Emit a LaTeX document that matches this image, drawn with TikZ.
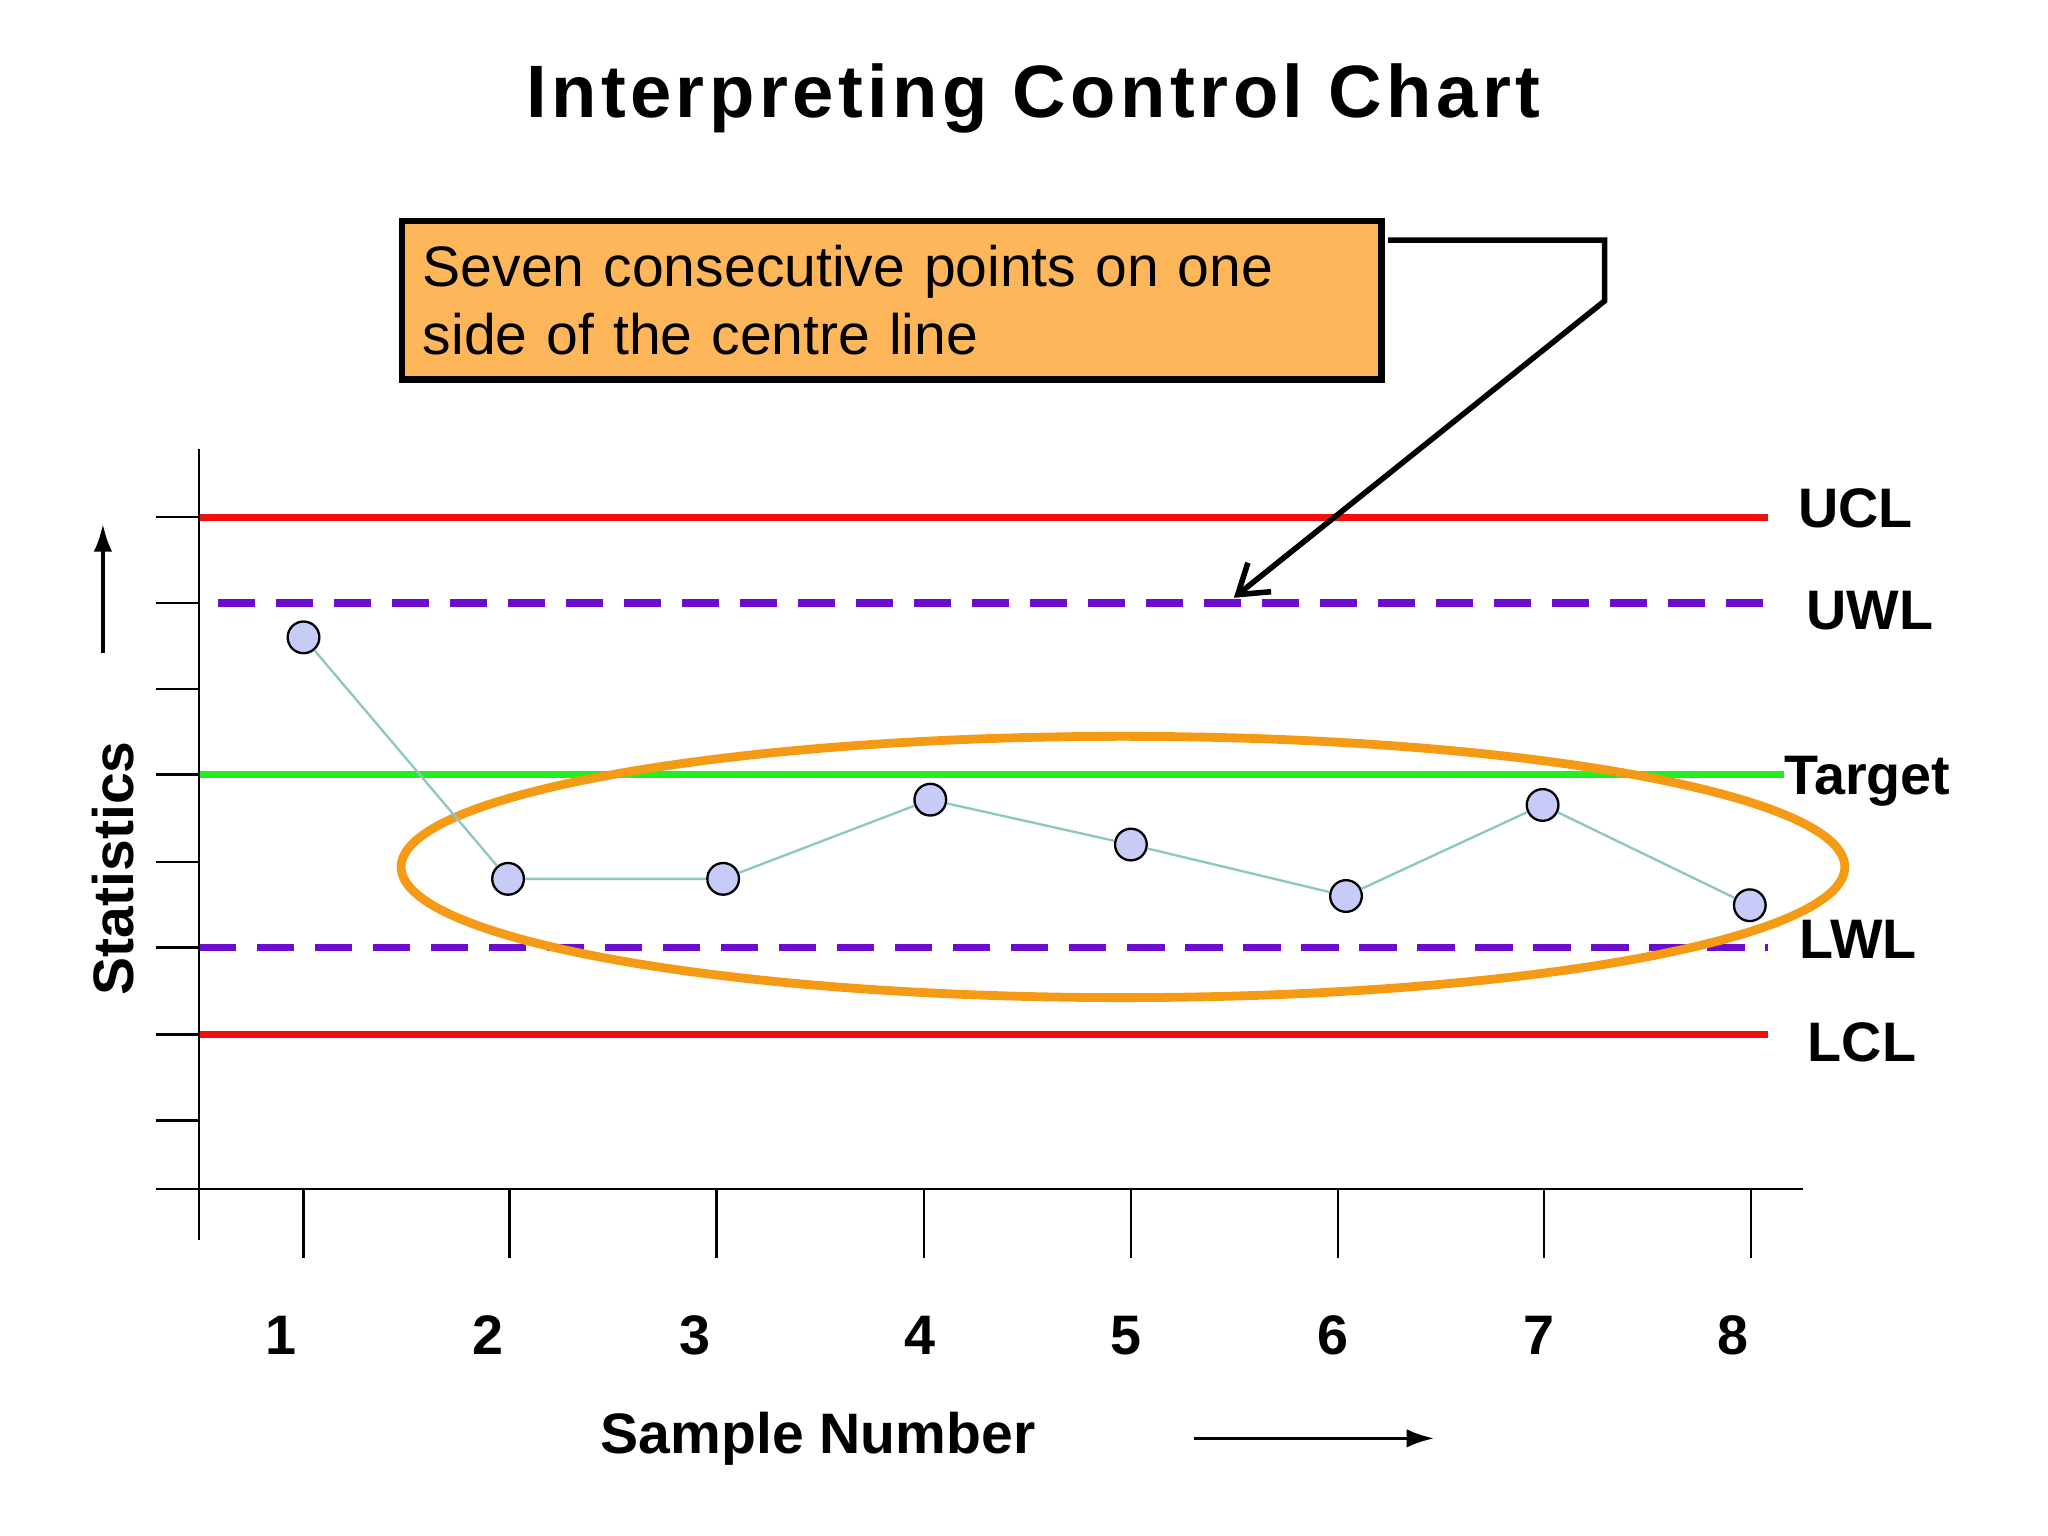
\documentclass[tikz,border=0pt]{standalone}
\usepackage{fontspec}
\setmainfont{Liberation Sans}
\usetikzlibrary{arrows.meta}
\definecolor{boxfill}{HTML}{FDB65A}
\definecolor{ucl}{HTML}{F01010}
\definecolor{wl}{HTML}{6A0DCC}
\definecolor{tgt}{HTML}{22EE22}
\definecolor{ell}{HTML}{F59A14}
\definecolor{pt}{HTML}{C8CBF8}
\definecolor{pl}{HTML}{8CC8C0}
\begin{document}
\begin{tikzpicture}[x=0.01cm,y=-0.01cm,
  lab/.style={font=\fontsize{12}{14}\bfseries\selectfont},
  axisline/.style={line width=0.5pt,black},
  ctl/.style={line width=1.6pt,ucl},
  warn/.style={line width=1.6pt,wl,dash pattern=on 8pt off 4.5pt},
  dot/.style={circle,draw=black,line width=0.5pt,fill=pt,minimum size=0.24cm,inner sep=0pt}]
\useasboundingbox[fill=white] (0,0) rectangle (1552,1164);
\node[font=\fontsize{16}{19}\bfseries\selectfont\addfontfeatures{LetterSpace=6}] (title) at (783,75) {Interpreting Control Chart};
% limit lines
\draw[ctl] (151,392) -- (1340,392);
\draw[warn] (165,457) -- (1340,457);
\draw[line width=1.6pt,tgt] (151,587) -- (1352,587);
\draw[warn] (151,718) -- (1340,718);
\draw[ctl] (151,784) -- (1340,784);
% axes
\draw[axisline] (151,340) -- (151,940);
\draw[axisline] (118,901) -- (1366,901);
\foreach \y in {392,457,522,587,653,718,784,849} \draw[axisline] (118,\y) -- (151,\y);
\foreach \x/\n/\lx in {230/1/213,386/2/370,543/3/527,700/4/697,857/5/853,1014/6/1010,1170/7/1166,1327/8/1313}{
  \draw[axisline] (\x,901) -- (\x,953);
  \node[lab] (n\n) at (\lx,1012) {\n};}
% labels
\node[lab] (lucl) at (1406,385) {UCL};
\node[lab] (luwl) at (1417,463) {UWL};
\node[lab] (ltgt) at (1415,592) {Target};
\node[lab] (llwl) at (1408,712) {LWL};
\node[lab] (llcl) at (1411,790) {LCL};
% ellipse
\draw[ell,line width=1.9pt] (851,657) ellipse [x radius=547,y radius=99];
% points
\foreach \i/\x/\y in {1/230/483,2/385/666,3/548/666,4/705/606,5/857/640,6/1020/679,7/1169/610,8/1326/686}
  \node[dot] (p\i) at (\x,\y) {};
\draw[pl,line width=0.5pt] (p1)--(p2)--(p3)--(p4)--(p5)--(p6)--(p7)--(p8);
% box
\node[draw=black,line width=1.4pt,fill=boxfill,minimum width=7.38cm,minimum height=1.2cm,anchor=north west,text width=7.1cm,align=left,font=\fontsize{12.3}{14.5}\selectfont,inner xsep=0.16cm] (box) at (302,165) {Seven consecutive points on one\\side of the centre line};
\coordinate (c0) at (1052,182);
\coordinate (c1) at (1216,182);
\coordinate (c2) at (1216,228);
\coordinate (c3) at (935,453);
\draw[line width=1.2pt,-{Straight Barb[length=6pt,width=8pt]}] (c0) -- (c1) -- (c2) -- (c3);
% axis titles
\node[font=\fontsize{12.3}{15}\bfseries\selectfont] (xt) at (620,1090) {Sample Number};
\coordinate (xa0) at (905,1090); \coordinate (xa1) at (1087,1090);
\draw[line width=0.8pt,-{Latex[length=6pt,width=4pt]}] (xa0) -- (xa1);
\node[font=\fontsize{12.3}{15}\bfseries\selectfont,rotate=90] (yt) at (86,658) {Statistics};
\coordinate (ya0) at (78,495); \coordinate (ya1) at (78,397);
\draw[line width=0.8pt,-{Latex[length=6pt,width=4pt]}] (ya0) -- (ya1);
\end{tikzpicture}
\end{document}
